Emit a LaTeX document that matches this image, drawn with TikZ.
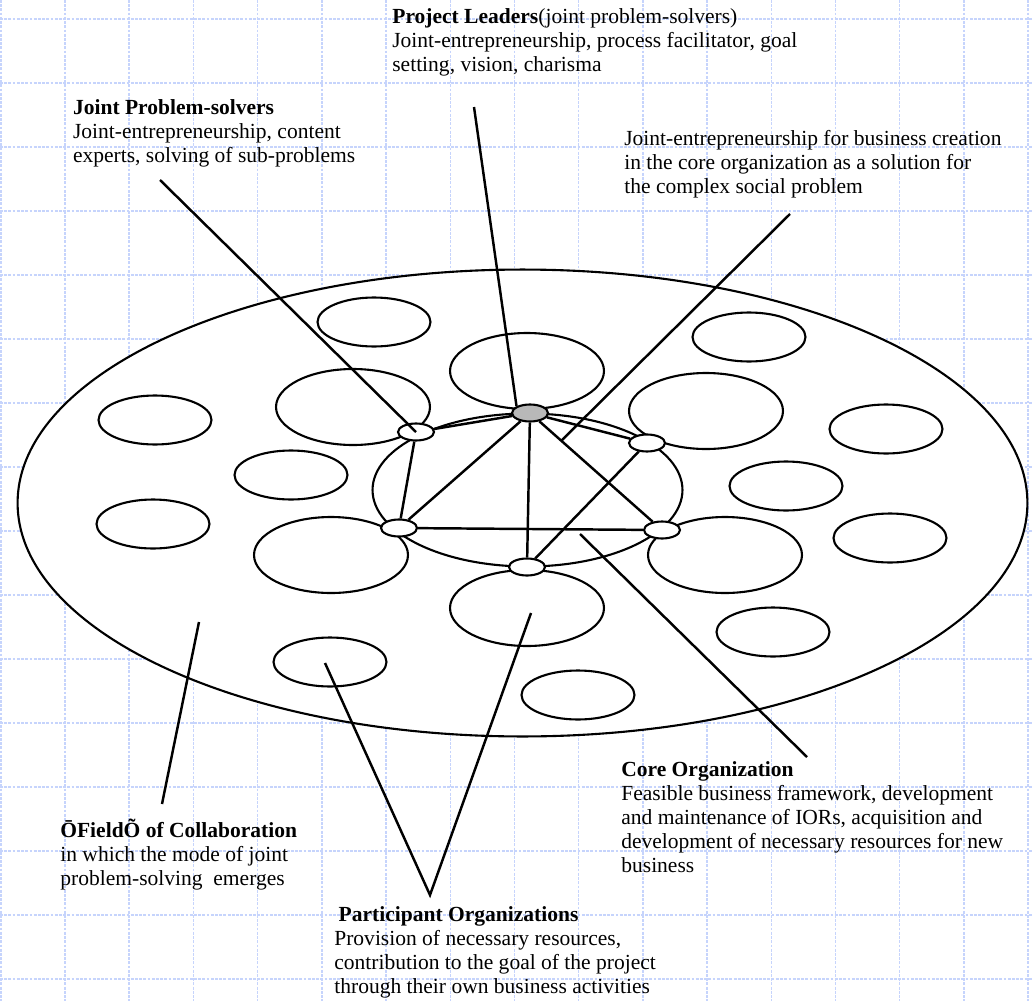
\documentclass[tikz,border=0pt]{standalone}
\usepackage{fontspec}
\setmainfont{Liberation Serif}
\usetikzlibrary{shapes.geometric}
\definecolor{gridblue}{RGB}{198,212,252}
\tikzset{
    collab/.cd,
    grid line/.style={gridblue,line width=0.8pt,dash pattern=on 1.6pt off 0.8pt},
    field/.style={draw,ellipse,fill=white,line width=1.2pt,inner sep=0pt},
    org/.style={draw,ellipse,fill=white,line width=1.2pt,inner sep=0pt,minimum width=2.26cm,minimum height=0.98cm},
    big org/.style={collab/org,minimum width=3.08cm,minimum height=1.52cm},
    member/.style={draw,ellipse,fill=white,line width=1.2pt,inner sep=0pt,minimum width=0.72cm,minimum height=0.34cm},
    leader/.style={collab/member,fill=black!28},
    tie/.style={line width=1.4pt},
    pointer/.style={line width=1.4pt},
    note/.style={anchor=base west,align=left,inner sep=0pt,font=\fontsize{12.25}{13.66}\selectfont},
}

\begin{document}
\begin{tikzpicture}[x=0.02cm,y=-0.02cm]
      \useasboundingbox (0,0) rectangle (1032,1001);

      % background grid
      \foreach \gx in {0,...,16} {
        \draw[collab/grid line] ({0.8+64.2*\gx},0) -- ++(0,1001);
      }
      \foreach \gy in {0,...,15} {
        \draw[collab/grid line] (0,{19+64*\gy}) -- ++(1032,0);
      }

      % field of collaboration
      \node[collab/field,minimum width=20.2cm,minimum height=9.34cm] (field) at (522.5,503) {};

      \foreach[count=\i] \x/\y in {374/322,155/420,291/475,153/524,330/662,578/695,749/337,886/429,786/486,890/538,773/632} {
        \node[collab/org] (o\i) at (\x,\y) {};
      }
      \foreach[count=\i] \x/\y in {527/371,353/407,706/411,331/555,527/608,725/555} {
        \node[collab/big org] (b\i) at (\x,\y) {};
      }

      % core organization
      \node[draw,ellipse,line width=1.2pt,inner sep=0pt,minimum width=6.2cm,minimum height=3.06cm] (core) at (527.5,490) {};

      % joint problem-solvers
      \node[collab/leader] (hub) at (530,413) {};
      \node[collab/member] (lu) at (416,432) {};
      \node[collab/member] (ru) at (647,443) {};
      \node[collab/member] (ll) at (399,528) {};
      \node[collab/member] (rl) at (662,530) {};
      \node[collab/member] (bt) at (527,567) {};

      \foreach \a/\b in {lu/hub,hub/ru,hub/ll,hub/rl,hub/bt,lu/ll,ll/rl,bt/ru} {
        \draw[collab/tie] (\a) -- (\b);
      }

      % labels (anchored at the baseline of the last line)
      \node[collab/note] (pl) at (392,71) {\textbf{Project Leaders}(joint problem-solvers)\\Joint-entrepreneurship, process facilitator, goal\\setting, vision, charisma};
      \node[collab/note] (jps) at (72.7,162) {\textbf{Joint Problem-solvers}\\Joint-entrepreneurship, content\\experts, solving of sub-problems};
      \node[collab/note] (je) at (624,193) {Joint-entrepreneurship for business creation\\in the core organization as a solution for\\the complex social problem};
      \node[collab/note] (co) at (621,872) {\textbf{Core Organization}\\Feasible business framework, development\\and maintenance of IORs, acquisition and\\development of necessary resources for new\\business};
      \node[collab/note] (fc) at (60,885) {\textbf{ŌFieldÕ of Collaboration}\\in which the mode of joint\\problem-solving\ \ emerges};
      \node[collab/note] (po) at (334,993) {\hspace{2.5pt}\textbf{Participant Organizations}\\Provision of necessary resources,\\contribution to the goal of the project\\through their own business activities};

      % pointers
      \coordinate (pl tip) at (474,107);
      \coordinate (jps tip) at (160,180);
      \coordinate (je tip) at (790,214);
      \coordinate (je end) at (561,441);
      \coordinate (fc tip) at (162,804);
      \coordinate (fc end) at (199,622);
      \coordinate (po tip) at (430,895);
      \coordinate (po left) at (325,663);
      \coordinate (po right) at (531,613);
      \coordinate (co tip) at (807,757);
      \coordinate (co end) at (580,534);

      \draw[collab/pointer] (pl tip) -- (hub.north west);
      \draw[collab/pointer] (jps tip) -- (lu.center);
      \draw[collab/pointer] (je tip) -- (je end);
      \draw[collab/pointer] (fc tip) -- (fc end);
      \draw[collab/pointer] (po left) -- (po tip) -- (po right);
      \draw[collab/pointer] (co tip) -- (co end);
    \end{tikzpicture}
\end{document}
